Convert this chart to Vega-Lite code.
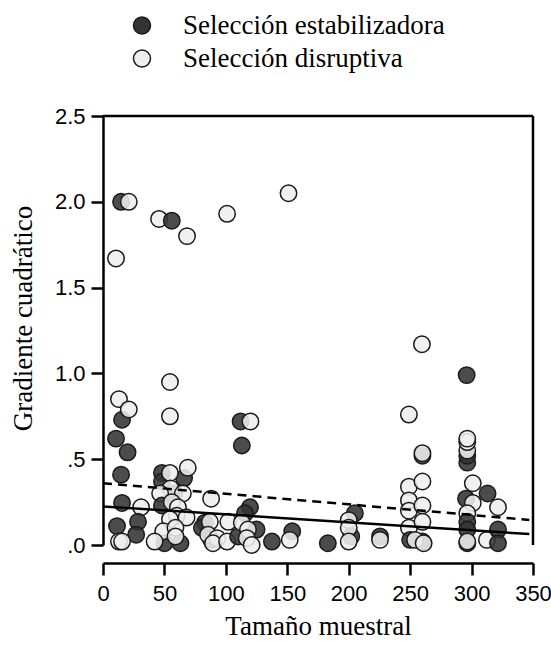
{
  "$schema": "https://vega.github.io/schema/vega-lite/v6.json",
  "width": 430,
  "height": 429,
  "autosize": "none",
  "padding": {"left": 103, "top": 116, "right": 18, "bottom": 102},
  "background": "white",
  "config": {"view": {"stroke": null}, "font": "Liberation Sans"},
  "datasets": {
    "pts": [
      {"n": 14.7, "g": 2.0, "tipo": "Selección estabilizadora"},
      {"n": 21, "g": 2.0, "tipo": "Selección disruptiva"},
      {"n": 10.6, "g": 1.67, "tipo": "Selección disruptiva"},
      {"n": 45.6, "g": 1.90, "tipo": "Selección disruptiva"},
      {"n": 56, "g": 1.89, "tipo": "Selección estabilizadora"},
      {"n": 68.4, "g": 1.80, "tipo": "Selección disruptiva"},
      {"n": 101, "g": 1.93, "tipo": "Selección disruptiva"},
      {"n": 151, "g": 2.05, "tipo": "Selección disruptiva"},
      {"n": 15.5, "g": 0.73, "tipo": "Selección estabilizadora"},
      {"n": 13, "g": 0.85, "tipo": "Selección disruptiva"},
      {"n": 21, "g": 0.79, "tipo": "Selección disruptiva"},
      {"n": 10.6, "g": 0.62, "tipo": "Selección estabilizadora"},
      {"n": 20, "g": 0.54, "tipo": "Selección estabilizadora"},
      {"n": 14.7, "g": 0.41, "tipo": "Selección estabilizadora"},
      {"n": 15.5, "g": 0.245, "tipo": "Selección estabilizadora"},
      {"n": 31, "g": 0.22, "tipo": "Selección disruptiva"},
      {"n": 11.4, "g": 0.11, "tipo": "Selección estabilizadora"},
      {"n": 28.5, "g": 0.135, "tipo": "Selección estabilizadora"},
      {"n": 27, "g": 0.06, "tipo": "Selección estabilizadora"},
      {"n": 13, "g": 0.02, "tipo": "Selección disruptiva"},
      {"n": 15.5, "g": 0.02, "tipo": "Selección disruptiva"},
      {"n": 54.5, "g": 0.95, "tipo": "Selección disruptiva"},
      {"n": 54.5, "g": 0.75, "tipo": "Selección disruptiva"},
      {"n": 48, "g": 0.42, "tipo": "Selección estabilizadora"},
      {"n": 66, "g": 0.39, "tipo": "Selección estabilizadora"},
      {"n": 48, "g": 0.37, "tipo": "Selección estabilizadora"},
      {"n": 54.5, "g": 0.42, "tipo": "Selección disruptiva"},
      {"n": 69, "g": 0.45, "tipo": "Selección disruptiva"},
      {"n": 58, "g": 0.30, "tipo": "Selección estabilizadora"},
      {"n": 55, "g": 0.33, "tipo": "Selección disruptiva"},
      {"n": 46.5, "g": 0.30, "tipo": "Selección disruptiva"},
      {"n": 65, "g": 0.30, "tipo": "Selección disruptiva"},
      {"n": 48, "g": 0.23, "tipo": "Selección estabilizadora"},
      {"n": 56, "g": 0.25, "tipo": "Selección disruptiva"},
      {"n": 61, "g": 0.22, "tipo": "Selección disruptiva"},
      {"n": 60, "g": 0.17, "tipo": "Selección disruptiva"},
      {"n": 68, "g": 0.16, "tipo": "Selección disruptiva"},
      {"n": 54.5, "g": 0.15, "tipo": "Selección disruptiva"},
      {"n": 50, "g": 0.01, "tipo": "Selección estabilizadora"},
      {"n": 63, "g": 0.01, "tipo": "Selección estabilizadora"},
      {"n": 49, "g": 0.08, "tipo": "Selección disruptiva"},
      {"n": 59, "g": 0.10, "tipo": "Selección disruptiva"},
      {"n": 42, "g": 0.02, "tipo": "Selección disruptiva"},
      {"n": 59, "g": 0.05, "tipo": "Selección disruptiva"},
      {"n": 88, "g": 0.27, "tipo": "Selección disruptiva"},
      {"n": 83, "g": 0.13, "tipo": "Selección estabilizadora"},
      {"n": 80.5, "g": 0.10, "tipo": "Selección estabilizadora"},
      {"n": 88, "g": 0.03, "tipo": "Selección estabilizadora"},
      {"n": 87, "g": 0.135, "tipo": "Selección disruptiva"},
      {"n": 85.5, "g": 0.06, "tipo": "Selección disruptiva"},
      {"n": 93, "g": 0.04, "tipo": "Selección disruptiva"},
      {"n": 89.5, "g": 0.01, "tipo": "Selección disruptiva"},
      {"n": 101, "g": 0.02, "tipo": "Selección disruptiva"},
      {"n": 102, "g": 0.135, "tipo": "Selección disruptiva"},
      {"n": 112, "g": 0.72, "tipo": "Selección estabilizadora"},
      {"n": 120, "g": 0.72, "tipo": "Selección disruptiva"},
      {"n": 113, "g": 0.58, "tipo": "Selección estabilizadora"},
      {"n": 119.6, "g": 0.22, "tipo": "Selección estabilizadora"},
      {"n": 115.6, "g": 0.185, "tipo": "Selección estabilizadora"},
      {"n": 110, "g": 0.05, "tipo": "Selección estabilizadora"},
      {"n": 125, "g": 0.09, "tipo": "Selección estabilizadora"},
      {"n": 113, "g": 0.13, "tipo": "Selección disruptiva"},
      {"n": 118, "g": 0.09, "tipo": "Selección disruptiva"},
      {"n": 117, "g": 0.04, "tipo": "Selección disruptiva"},
      {"n": 121, "g": 0.0, "tipo": "Selección disruptiva"},
      {"n": 137.5, "g": 0.02, "tipo": "Selección estabilizadora"},
      {"n": 154, "g": 0.08, "tipo": "Selección estabilizadora"},
      {"n": 152, "g": 0.03, "tipo": "Selección disruptiva"},
      {"n": 183, "g": 0.01, "tipo": "Selección estabilizadora"},
      {"n": 205, "g": 0.185, "tipo": "Selección estabilizadora"},
      {"n": 202, "g": 0.05, "tipo": "Selección estabilizadora"},
      {"n": 200, "g": 0.145, "tipo": "Selección disruptiva"},
      {"n": 200, "g": 0.10, "tipo": "Selección disruptiva"},
      {"n": 200, "g": 0.02, "tipo": "Selección disruptiva"},
      {"n": 225.5, "g": 0.05, "tipo": "Selección estabilizadora"},
      {"n": 225.5, "g": 0.03, "tipo": "Selección disruptiva"},
      {"n": 259.6, "g": 1.17, "tipo": "Selección disruptiva"},
      {"n": 249, "g": 0.76, "tipo": "Selección disruptiva"},
      {"n": 260, "g": 0.52, "tipo": "Selección estabilizadora"},
      {"n": 260, "g": 0.535, "tipo": "Selección disruptiva"},
      {"n": 249, "g": 0.34, "tipo": "Selección disruptiva"},
      {"n": 249, "g": 0.26, "tipo": "Selección disruptiva"},
      {"n": 249, "g": 0.20, "tipo": "Selección disruptiva"},
      {"n": 249, "g": 0.10, "tipo": "Selección disruptiva"},
      {"n": 250, "g": 0.03, "tipo": "Selección estabilizadora"},
      {"n": 260, "g": 0.37, "tipo": "Selección disruptiva"},
      {"n": 260, "g": 0.23, "tipo": "Selección disruptiva"},
      {"n": 260, "g": 0.135, "tipo": "Selección disruptiva"},
      {"n": 260, "g": 0.02, "tipo": "Selección estabilizadora"},
      {"n": 254, "g": 0.03, "tipo": "Selección disruptiva"},
      {"n": 261, "g": 0.01, "tipo": "Selección disruptiva"},
      {"n": 296, "g": 0.99, "tipo": "Selección estabilizadora"},
      {"n": 296.5, "g": 0.48, "tipo": "Selección estabilizadora"},
      {"n": 296.5, "g": 0.52, "tipo": "Selección estabilizadora"},
      {"n": 296.5, "g": 0.55, "tipo": "Selección disruptiva"},
      {"n": 296.5, "g": 0.60, "tipo": "Selección disruptiva"},
      {"n": 296.5, "g": 0.62, "tipo": "Selección disruptiva"},
      {"n": 295.5, "g": 0.27, "tipo": "Selección estabilizadora"},
      {"n": 301, "g": 0.36, "tipo": "Selección disruptiva"},
      {"n": 301, "g": 0.245, "tipo": "Selección disruptiva"},
      {"n": 313, "g": 0.30, "tipo": "Selección estabilizadora"},
      {"n": 321.5, "g": 0.22, "tipo": "Selección disruptiva"},
      {"n": 296.5, "g": 0.185, "tipo": "Selección disruptiva"},
      {"n": 296.5, "g": 0.135, "tipo": "Selección estabilizadora"},
      {"n": 296.5, "g": 0.09, "tipo": "Selección estabilizadora"},
      {"n": 296.5, "g": 0.01, "tipo": "Selección estabilizadora"},
      {"n": 296.5, "g": 0.02, "tipo": "Selección disruptiva"},
      {"n": 312.5, "g": 0.03, "tipo": "Selección disruptiva"},
      {"n": 321.5, "g": 0.09, "tipo": "Selección estabilizadora"},
      {"n": 321.5, "g": 0.01, "tipo": "Selección estabilizadora"}
    ],
    "solid": [
      {"n": 0, "g": 0.225},
      {"n": 347, "g": 0.064}
    ],
    "dashed": [
      {"n": 0, "g": 0.36},
      {"n": 347, "g": 0.146}
    ]
  },
  "layer": [
    {
      "data": {"name": "pts"},
      "mark": {"type": "circle", "size": 270, "stroke": "#1a1a1a", "strokeWidth": 1.5, "opacity": 1, "fillOpacity": 0.88},
      "encoding": {
        "x": {
          "field": "n", "type": "quantitative",
          "scale": {"domain": [0, 350], "nice": false, "zero": false},
          "axis": {
            "values": [0, 50, 100, 150, 200, 250, 300, 350],
            "grid": false, "offset": 18, "labelFlush": false, "labelOverlap": false,
            "domainColor": "black", "domainWidth": 2.5,
            "tickColor": "black", "tickWidth": 2.5, "tickSize": 12,
            "labelFont": "Liberation Sans", "labelFontSize": 22, "labelColor": "black", "labelPadding": 8,
            "title": "Tamaño muestral", "titleFont": "Liberation Serif", "titleFontSize": 27,
            "titleFontWeight": "normal", "titleColor": "black", "titlePadding": 9
          }
        },
        "y": {
          "field": "g", "type": "quantitative",
          "scale": {"domain": [0, 2.5], "nice": false},
          "axis": {
            "values": [0, 0.5, 1, 1.5, 2, 2.5],
            "labelExpr": "datum.value < 1 ? substring(format(datum.value, '.1f'), 1) : format(datum.value, '.1f')",
            "grid": false, "labelFlush": false, "labelOverlap": false,
            "domainColor": "black", "domainWidth": 2.5,
            "tickColor": "black", "tickWidth": 2.5, "tickSize": 12,
            "labelFont": "Liberation Sans", "labelFontSize": 22, "labelColor": "black", "labelPadding": 6,
            "title": "Gradiente cuadrático", "titleFont": "Liberation Serif", "titleFontSize": 27,
            "titleFontWeight": "normal", "titleColor": "black",
            "titleAngle": -90, "titleX": -80, "titleY": 202, "titleAlign": "center", "titleBaseline": "middle"
          }
        },
        "fill": {
          "field": "tipo", "type": "nominal",
          "scale": {"domain": ["Selección estabilizadora", "Selección disruptiva"], "range": ["#333333", "#eeeeee"]},
          "legend": {
            "title": null, "orient": "none", "legendX": 25.5, "legendY": -104,
            "padding": 0, "symbolType": "circle", "symbolSize": 290,
            "symbolStrokeColor": "#1a1a1a", "symbolStrokeWidth": 1.5, "symbolOpacity": 1,
            "labelFont": "Liberation Serif", "labelFontSize": 27, "labelColor": "black",
            "labelOffset": 27.5, "rowPadding": 5, "labelLimit": 400
          }
        }
      }
    },
    {
      "data": {"name": "solid"},
      "mark": {"type": "line", "color": "black", "strokeWidth": 2.5},
      "encoding": {
        "x": {"field": "n", "type": "quantitative"},
        "y": {"field": "g", "type": "quantitative"}
      }
    },
    {
      "data": {"name": "dashed"},
      "mark": {"type": "line", "color": "black", "strokeWidth": 2.5, "strokeDash": [9, 6]},
      "encoding": {
        "x": {"field": "n", "type": "quantitative"},
        "y": {"field": "g", "type": "quantitative"}
      }
    },
    {
      "data": {"values": [{}]},
      "mark": {"type": "rule", "color": "black", "strokeWidth": 2.5},
      "encoding": {
        "x": {"datum": 0, "type": "quantitative"},
        "x2": {"datum": 350},
        "y": {"datum": 2.5, "type": "quantitative"}
      }
    },
    {
      "data": {"values": [{}]},
      "mark": {"type": "rule", "color": "black", "strokeWidth": 2.5},
      "encoding": {
        "x": {"datum": 350, "type": "quantitative"},
        "y": {"datum": 0, "type": "quantitative"},
        "y2": {"datum": 2.5}
      }
    }
  ]
}
